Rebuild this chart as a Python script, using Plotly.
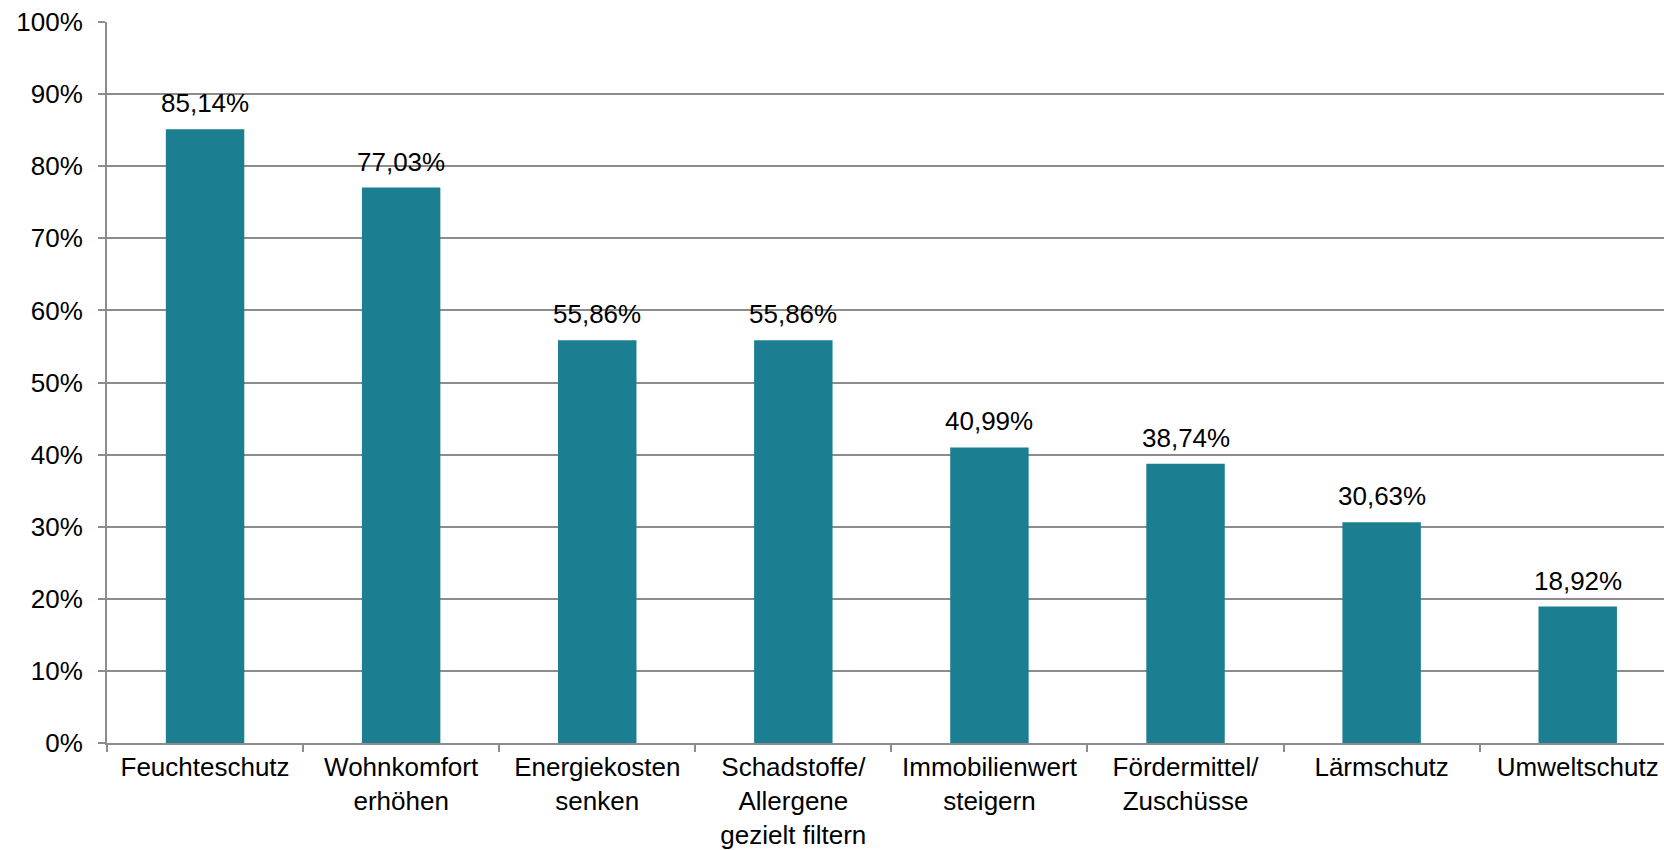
import plotly.graph_objects as go

categories = [
    "Feuchteschutz",
    "Wohnkomfort<br>erhöhen",
    "Energiekosten<br>senken",
    "Schadstoffe/<br>Allergene<br>gezielt filtern",
    "Immobilienwert<br>steigern",
    "Fördermittel/<br>Zuschüsse",
    "Lärmschutz",
    "Umweltschutz",
]
values = [85.14, 77.03, 55.86, 55.86, 40.99, 38.74, 30.63, 18.92]
y_ticks = list(range(0, 101, 10))
y_tick_labels = [f"{t}%" for t in y_ticks]

BAR_COLOR = "#1B7F91"
GRID_COLOR = "#8C8C8C"
FONT = "Liberation Sans, Arial, sans-serif"
FS = 26

labels = [f"{v:.2f}".replace(".", ",") + "%" for v in values]

fig = go.Figure()
fig.add_trace(go.Bar(
    x=categories,
    y=values,
    width=0.4,
    marker=dict(color=BAR_COLOR, line=dict(width=0)),
    hoverinfo="x+y",
))

# value labels above bars
for cat, v, lab in zip(categories, values, labels):
    fig.add_annotation(
        x=cat, y=v, text=lab, showarrow=False,
        yanchor="bottom", yshift=9,
        font=dict(family=FONT, size=FS, color="#000000"),
    )

fig.update_layout(
    width=1664, height=850,
    margin=dict(l=107, r=0, t=22, b=107),
    plot_bgcolor="white", paper_bgcolor="white",
    showlegend=False,
    font=dict(family=FONT, size=FS, color="#000000"),
    bargap=0.6,
)
fig.update_xaxes(
    range=[-0.5, 7.44],
    showline=True, linecolor=GRID_COLOR, linewidth=2,
    ticks="outside", tickson="boundaries", ticklen=7, tickwidth=2,
    tickcolor=GRID_COLOR, showgrid=False,
    automargin=False,
    tickfont=dict(family=FONT, size=FS, color="#000000"),
    fixedrange=True,
)
fig.update_yaxes(
    range=[0, 100],
    tickvals=y_ticks, ticktext=y_tick_labels,
    showline=True, linecolor=GRID_COLOR, linewidth=2,
    ticks="outside", ticklen=7, tickwidth=2, tickcolor=GRID_COLOR,
    showgrid=True, gridcolor=GRID_COLOR, gridwidth=2,
    zeroline=False, automargin=False,
    ticklabelstandoff=10,
    tickfont=dict(family=FONT, size=FS, color="#000000"),
    fixedrange=True,
)

fig.write_html(
    "out.html",
    config={"displayModeBar": False},
    post_script="document.body.style.margin='0';",
)
